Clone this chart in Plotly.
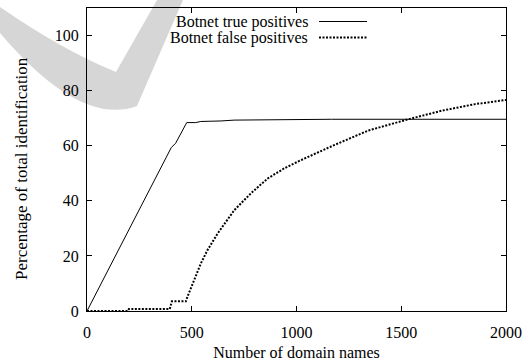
import plotly.graph_objects as go

# Data
tp_x = [0, 402, 423, 476, 519, 543, 640, 702, 1167, 2000]
tp_y = [0, 59.3, 60.9, 68.4, 68.4, 68.8, 69.0, 69.3, 69.6, 69.6]

fp_x = [0, 195, 200, 395, 405, 419, 472, 479, 495, 511, 543, 575, 623, 703,
        782, 862, 942, 1022, 1182, 1342, 1533, 1693, 1852, 2000]
fp_y = [0, 0, 0.7, 0.7, 3.5, 3.5, 3.5, 5.1, 8.1, 11.2, 17.2, 22.1, 28.1, 36.6,
        42.7, 48.1, 51.8, 54.8, 60.3, 65.5, 69.6, 72.7, 75.1, 76.6]

series_names = ["Botnet true positives", "Botnet false positives"]
x_ticks = [0, 500, 1000, 1500, 2000]
y_ticks = [0, 20, 40, 60, 80, 100]
x_title = "Number of domain names"
y_title = "Percentage of total identification"

FONT = "Liberation Serif"

fig = go.Figure()
fig.add_trace(go.Scatter(x=tp_x, y=tp_y, mode="lines", name=series_names[0],
                         line=dict(color="black", width=1), showlegend=False))
fig.add_trace(go.Scatter(x=fp_x, y=fp_y, mode="lines", name=series_names[1],
                         line=dict(color="black", width=2, dash="2px,1.5px"),
                         showlegend=False))

W, H = 528, 361
L, R, T, B = 87, 506, 8, 311
pw, ph = R - L, B - T


def px2paper(px, py):
    return (px - L) / pw, (B - py) / ph


def path_from(points_cmds):
    out = []
    for cmd, pts in points_cmds:
        coords = []
        for (px, py) in pts:
            x, y = px2paper(px, py)
            coords.append(f"{x:.4f},{y:.4f}")
        out.append(cmd + " " + " ".join(coords))
    return " ".join(out) + " Z"


# light grey watermark stroke behind the plot
wm = path_from([
    ("M", [(0, 7)]),
    ("Q", [(62, 50), (116, 72)]),
    ("L", [(157, 0)]),
    ("L", [(183, 0)]),
    ("L", [(137, 106)]),
    ("Q", [(80, 127), (0, 33)]),
])
shapes = [dict(type="path", xref="paper", yref="paper", path=wm,
               fillcolor="#d6d6d6", line=dict(width=0), layer="below")]

# manual legend (text right-aligned, sample line on the right)
leg_rows = [(21.5, 21.5, dict(color="black", width=1)),
            (38, 37.5, dict(color="black", width=2, dash="2px,1.5px"))]
annotations = []
for name, (py, ly, lstyle) in zip(series_names, leg_rows):
    tx, ty = px2paper(310, py)
    annotations.append(dict(xref="paper", yref="paper", x=tx, y=ty, text=name,
                            showarrow=False, xanchor="right", yanchor="middle",
                            font=dict(family=FONT, size=16, color="black")))
    x0, y0 = px2paper(319, ly)
    x1, _ = px2paper(367, ly)
    shapes.append(dict(type="line", xref="paper", yref="paper", x0=x0, x1=x1,
                       y0=y0, y1=y0, line=lstyle))

# y-axis title as a rotated annotation (placed as in the reference)
yx, yy = px2paper(21, 169)
annotations.append(dict(xref="paper", yref="paper", x=yx, y=yy, text=y_title,
                        textangle=-90, showarrow=False, xanchor="center",
                        yanchor="middle",
                        font=dict(family=FONT, size=17, color="black")))

axis_common = dict(showgrid=False, zeroline=False, showline=True, linecolor="black",
                   linewidth=1, mirror="ticks", ticks="inside", ticklen=5,
                   tickcolor="black", tickwidth=1, automargin=False,
                   tickfont=dict(family=FONT, size=16, color="black"))

fig.update_layout(
    width=W, height=H,
    margin=dict(l=L, r=W - R, t=T, b=H - B, autoexpand=False),
    paper_bgcolor="white", plot_bgcolor="rgba(0,0,0,0)",
    xaxis=dict(range=[0, 2000], tickvals=x_ticks, ticklabelstandoff=7,
               title=dict(text=x_title, standoff=11,
                          font=dict(family=FONT, size=16, color="black")),
               **axis_common),
    yaxis=dict(range=[0, 110], tickvals=y_ticks, ticklabelstandoff=4,
               **axis_common),
    shapes=shapes,
    annotations=annotations,
    showlegend=False,
)

fig.write_html("out.html", post_script="document.body.style.margin='0';",
               config={"displayModeBar": False})
